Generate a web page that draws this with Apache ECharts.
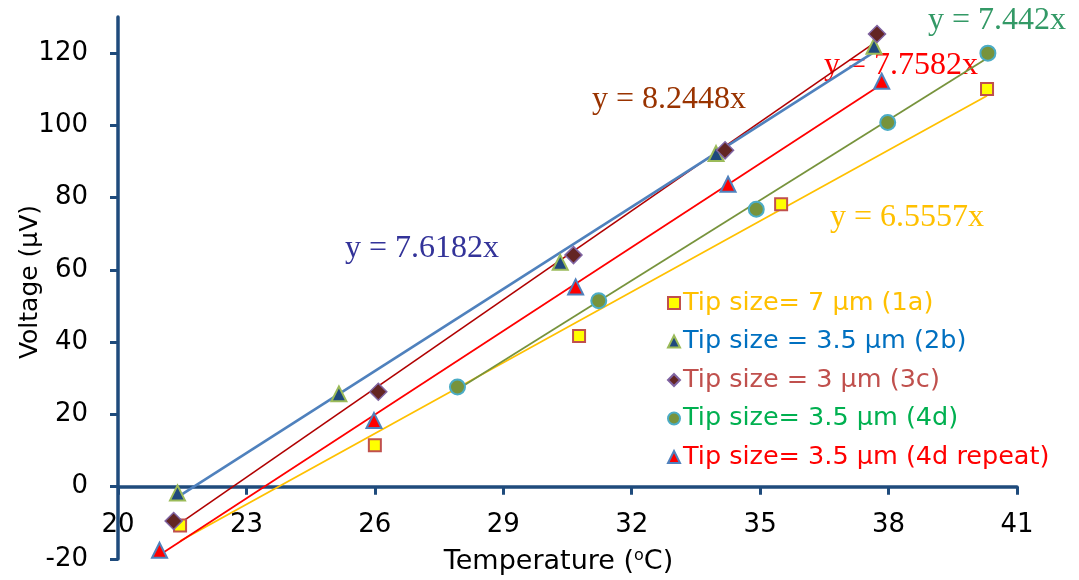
<!DOCTYPE html>
<html>
<head>
<meta charset="utf-8">
<script src="https://cdn.jsdelivr.net/npm/echarts@6/dist/echarts.min.js"></script>
<style>
html,body{margin:0;padding:0;background:#fff;}
#chart{width:1079px;height:580px;}
</style>
</head>
<body>
<div id="chart"></div>
<script>
// ---- data ----
var xTicks = [20, 23, 26, 29, 32, 35, 38, 41];
var yTicks = [-20, 0, 20, 40, 60, 80, 100, 120];

var seriesNames = [
  'Tip size= 7 \u00b5m (1a)',
  'Tip size = 3.5 \u00b5m (2b)',
  'Tip size = 3 \u00b5m (3c)',
  'Tip size= 3.5 \u00b5m (4d)',
  'Tip size= 3.5 \u00b5m (4d repeat)'
];

var s1a = [[21.45, -10.7], [26.00, 11.5], [30.77, 41.7], [35.49, 78.2], [40.30, 110.1]];
var s2b = [[21.39, -1.7], [25.16, 25.7], [30.33, 62.1], [33.97, 92.2], [37.66, 121.9]];
var s3c = [[21.30, -9.5], [26.08, 26.3], [30.64, 64.1], [34.18, 93.1], [37.73, 125.3]];
var s4d = [[27.93, 27.6], [31.23, 51.5], [34.91, 76.8], [37.98, 100.8], [40.32, 120.0]];
var s4r = [[20.97, -17.6], [25.98, 18.3], [30.69, 55.3], [34.25, 83.7], [37.84, 112.2]];

// trend line end points
var t1a = [[21.45, -15.0], [40.30, 108.2]];
var t2b = [[21.39, -2.9], [37.66, 120.3]];
var t3c = [[21.30, -11.3], [37.73, 123.3]];
var t4d = [[27.93, 26.9], [40.32, 118.7]];
var t4r = [[20.97, -18.9], [37.84, 111.4]];

var equations = ['y = 7.6182x', 'y = 8.2448x', 'y = 7.7582x', 'y = 7.442x', 'y = 6.5557x'];

// ---- chart ----
var chart = echarts.init(document.getElementById('chart'), null, {renderer: 'canvas'});
var axisColor = '#1f4b7c';
var sans = 'DejaVu Sans';
var serif = 'Liberation Serif';

function trend(data, color, width) {
  return {type: 'line', data: data, symbol: 'none', silent: true, z: 2,
    lineStyle: {color: color, width: width}, legendHoverLink: false};
}
function pts(name, data, symbol, size, fill, border, bw) {
  return {type: 'scatter', name: name, data: data, symbol: symbol, symbolSize: size, z: 5,
    itemStyle: {color: fill, borderColor: border, borderWidth: bw, opacity: 1}};
}

var legendColors = ['#ffc000', '#0070c0', '#c0504d', '#00b050', '#ff0000'];

var option = {
  animation: false,
  backgroundColor: '#ffffff',
  grid: [
    {left: 118, right: 62, top: 17, bottom: 21, containLabel: false, outerBoundsMode: 'none'},
    // helper grid whose bottom edge sits on the y = 0 line; carries the x labels and name
    {left: 118, right: 62, top: 17, bottom: 93, containLabel: false, outerBoundsMode: 'none'}
  ],
  xAxis: [
    {
      gridIndex: 0, type: 'value', min: 20, max: 41,
      axisLine: {onZero: true, lineStyle: {color: axisColor, width: 3.5}},
      axisTick: {show: true, inside: false, length: 8, lineStyle: {color: axisColor, width: 3}, customValues: xTicks},
      axisLabel: {show: false},
      splitLine: {show: false}
    },
    {
      gridIndex: 1, type: 'value', min: 20, max: 41,
      axisLine: {show: false, onZero: false},
      axisTick: {show: false},
      axisLabel: {customValues: xTicks, color: '#000', fontFamily: sans, fontSize: 26, margin: 25},
      splitLine: {show: false},
      name: 'Temperature ({sup|o}C)',
      nameLocation: 'middle', nameGap: 61, nameMoveOverlap: false,
      nameTextStyle: {color: '#000', fontFamily: sans, fontSize: 27, padding: [0, 18, 0, 0],
        rich: {sup: {fontFamily: sans, fontSize: 16, verticalAlign: 'top', padding: [0, 0, 12, 0], color: '#000'}}}
    }
  ],
  yAxis: [
    {
      gridIndex: 0, type: 'value', min: -20, max: 130,
      axisLine: {show: true, onZero: false, lineStyle: {color: axisColor, width: 3.5}},
      axisTick: {show: true, inside: false, length: 8, lineStyle: {color: axisColor, width: 3}, customValues: yTicks},
      axisLabel: {customValues: yTicks, color: '#000', fontFamily: sans, fontSize: 26, margin: 30},
      splitLine: {show: false},
      name: 'Voltage (\u00b5V)',
      nameLocation: 'middle', nameGap: 75, nameMoveOverlap: false,
      nameTextStyle: {color: '#000', fontFamily: sans, fontSize: 25, padding: [0, 0, 0, 12]}
    },
    {
      gridIndex: 1, type: 'value', min: 0, max: 130, show: false
    }
  ],
  legend: {
    orient: 'vertical', left: 662, top: 285, itemGap: 12.5, itemWidth: 12, itemHeight: 12,
    textStyle: {fontFamily: sans, fontSize: 25.5, padding: [0, 0, 0, -2]},
    data: seriesNames.map(function (n, i) { return {name: n, textStyle: {color: legendColors[i]}}; })
  },
  series: [
    trend(t1a, '#ffc000', 1.8),
    trend(t4d, '#77933c', 1.8),
    trend(t4r, '#ff0000', 1.8),
    trend(t3c, '#b00000', 1.6),
    trend(t2b, '#4f81bd', 2.6),
    pts(seriesNames[0], s1a, 'rect', 12, '#ffff00', '#c0504d', 2),
    pts(seriesNames[1], s2b, 'triangle', 15, '#1f497d', '#9bbb59', 2),
    pts(seriesNames[2], s3c, 'diamond', 17, '#632523', '#8064a2', 1.5),
    pts(seriesNames[3], s4d, 'circle', 15, '#77933c', '#4bacc6', 2),
    pts(seriesNames[4], s4r, 'triangle', 15, '#ff0000', '#4f81bd', 2)
  ],
  graphic: [
    {type: 'text', x: 345, y: 249, style: {text: equations[0], font: '32px "' + serif + '"', fill: '#333399', verticalAlign: 'middle'}},
    {type: 'text', x: 592, y: 100, style: {text: equations[1], font: '32px "' + serif + '"', fill: '#993300', verticalAlign: 'middle'}},
    {type: 'text', x: 824, y: 66, style: {text: equations[2], font: '32px "' + serif + '"', fill: '#ff0000', verticalAlign: 'middle'}},
    {type: 'text', x: 928, y: 21, style: {text: equations[3], font: '32px "' + serif + '"', fill: '#339966', verticalAlign: 'middle'}},
    {type: 'text', x: 830, y: 218, style: {text: equations[4], font: '32px "' + serif + '"', fill: '#ffc000', verticalAlign: 'middle'}}
  ]
};
chart.setOption(option);
</script>
</body>
</html>
